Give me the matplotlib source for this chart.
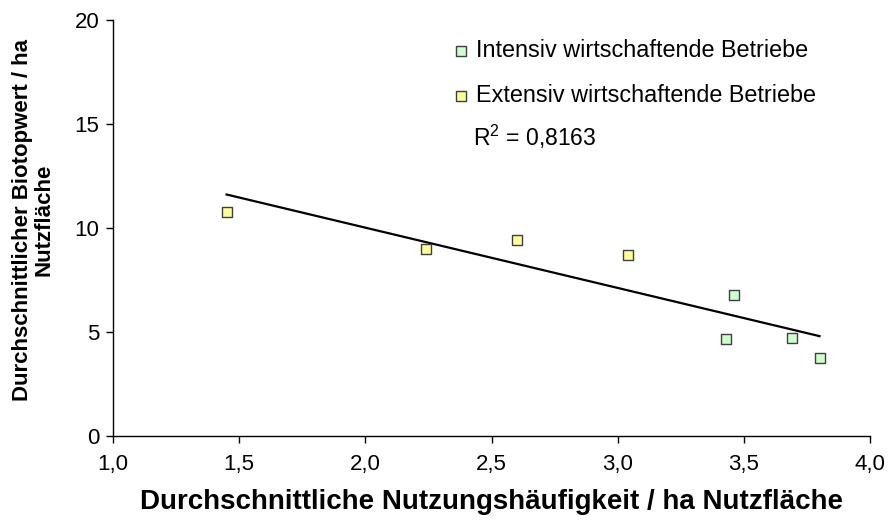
import numpy as np
from matplotlib import pyplot as plt

# Intensive farms (green) and extensive farms (yellow)
INTENSIV_X = [3.46, 3.43, 3.69, 3.80]
INTENSIV_Y = [6.78, 4.66, 4.73, 3.76]
EXTENSIV_X = [1.45, 2.24, 2.60, 3.04]
EXTENSIV_Y = [10.77, 8.99, 9.41, 8.69]
R2_TEXT = "R$^2$ = 0,8163"
X_TICKS = [1.0, 1.5, 2.0, 2.5, 3.0, 3.5, 4.0]
Y_TICKS = [0, 5, 10, 15, 20]

plt.rcParams['font.family'] = ['Liberation Sans', 'DejaVu Sans']
plt.rcParams['mathtext.fontset'] = 'custom'
plt.rcParams['mathtext.rm'] = 'Liberation Sans'

fig = plt.figure(figsize=(8.9, 5.25), dpi=100)
ax = fig.add_axes([0.127, 0.1695, 0.8505, 0.7925])

# trend line over all points
all_x = np.array(INTENSIV_X + EXTENSIV_X)
all_y = np.array(INTENSIV_Y + EXTENSIV_Y)
slope, icpt = np.polyfit(all_x, all_y, 1)
line_x = np.array([all_x.min(), all_x.max()])
ax.plot(line_x, slope * line_x + icpt, color='black', lw=1.6, zorder=2)

ax.scatter(INTENSIV_X, INTENSIV_Y, marker='s', s=50, facecolor='#CCFFCC',
           edgecolor='#404040', linewidth=1.0, label='Intensiv wirtschaftende Betriebe', zorder=3)
ax.scatter(EXTENSIV_X, EXTENSIV_Y, marker='s', s=50, facecolor='#FFFF99',
           edgecolor='#404040', linewidth=1.0, label='Extensiv wirtschaftende Betriebe', zorder=3)

ax.set_xlim(1.0, 4.0)
ax.set_ylim(0, 20)
ax.set_xticks(X_TICKS)
ax.set_xticklabels([f"{t:.1f}".replace('.', ',') for t in X_TICKS])
ax.set_yticks(Y_TICKS)
ax.tick_params(axis='both', labelsize=16, length=5, width=1, direction='out', color='black')
ax.tick_params(axis='x', pad=8)
ax.tick_params(axis='y', pad=5)

for side in ['top', 'right']:
    ax.spines[side].set_visible(False)
for side in ['left', 'bottom']:
    ax.spines[side].set_linewidth(1.0)

ax.set_xlabel('Durchschnittliche Nutzungshäufigkeit / ha Nutzfläche', fontsize=20,
              fontweight='bold', labelpad=10)
ax.set_ylabel('Durchschnittlicher Biotopwert / ha\nNutzfläche', fontsize=16,
              fontweight='bold', linespacing=1.05)
ax.yaxis.set_label_coords(-0.077, 0.519)

leg = ax.legend(loc='upper left', bbox_to_anchor=(0.42, 1.005), frameon=False, fontsize=16.8,
                handlelength=0.8, handletextpad=0.25, labelspacing=0.95, markerscale=1.0)
ax.text(0.475, 0.72, R2_TEXT, transform=ax.transAxes, fontsize=16.5, va='center')

fig.savefig('out.png', dpi=100)
